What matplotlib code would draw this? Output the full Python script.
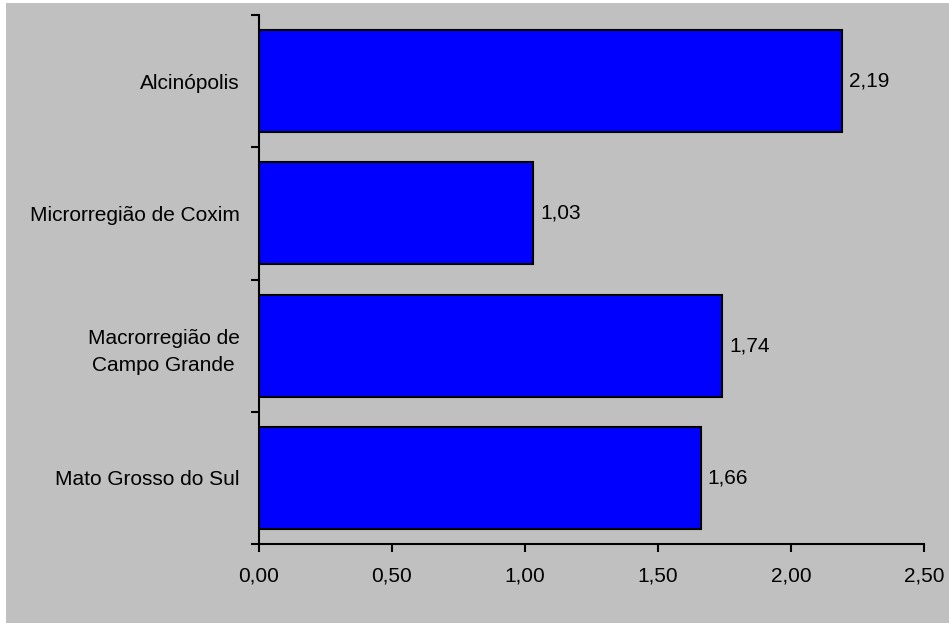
import matplotlib
matplotlib.use("Agg")
import matplotlib.pyplot as plt
from matplotlib.patches import Rectangle
import numpy as np

categories = ["Alcinópolis", "Microrregião de Coxim", "Macrorregião de\nCampo Grande", "Mato Grosso do Sul"]
values = [2.19, 1.03, 1.74, 1.66]
xticks = [0.0, 0.5, 1.0, 1.5, 2.0, 2.5]

plt.rcParams['font.family'] = ['Liberation Sans', 'DejaVu Sans']

W, H = 949, 623
fig = plt.figure(figsize=(W / 100, H / 100), dpi=100, facecolor="white")
# grey chart area with a thin white margin on the left and top
fig.add_artist(Rectangle((6 / W, 0), 1 - 6 / W, 1 - 3 / H, transform=fig.transFigure,
                         facecolor="#C0C0C0", edgecolor="none", zorder=-10))

ax = fig.add_axes([259 / W, 1 - 544 / H, 665 / W, 529 / H])
ax.set_facecolor("#C0C0C0")

n = len(categories)
ypos = np.arange(n)[::-1]
ax.barh(ypos, values, height=0.77, color="#0000FF", edgecolor="black", linewidth=1.5)

for y, v in zip(ypos, values):
    ax.text(v + 0.027, y, f"{v:.2f}".replace(".", ","), va="center", ha="left", fontsize=15)

ax.set_xlim(0, 2.5)
ax.set_ylim(-0.5, n - 0.5)
ax.set_xticks(xticks)
ax.set_xticklabels([f"{t:.2f}".replace(".", ",") for t in xticks], fontsize=15)
ax.set_yticks(ypos)
ax.set_yticklabels(categories, fontsize=15, multialignment="center", linespacing=1.55)
ax.tick_params(axis="y", length=0, pad=14)
ax.set_yticks(np.arange(-0.5, n), minor=True)
ax.tick_params(axis="y", which="minor", length=6, width=1.5, direction="out")
ax.tick_params(axis="x", length=6, width=1.5, direction="out", pad=10)

for s in ["top", "right"]:
    ax.spines[s].set_visible(False)
for s in ["left", "bottom"]:
    ax.spines[s].set_linewidth(1.5)

fig.savefig("out.png", dpi=100, facecolor=fig.get_facecolor())
